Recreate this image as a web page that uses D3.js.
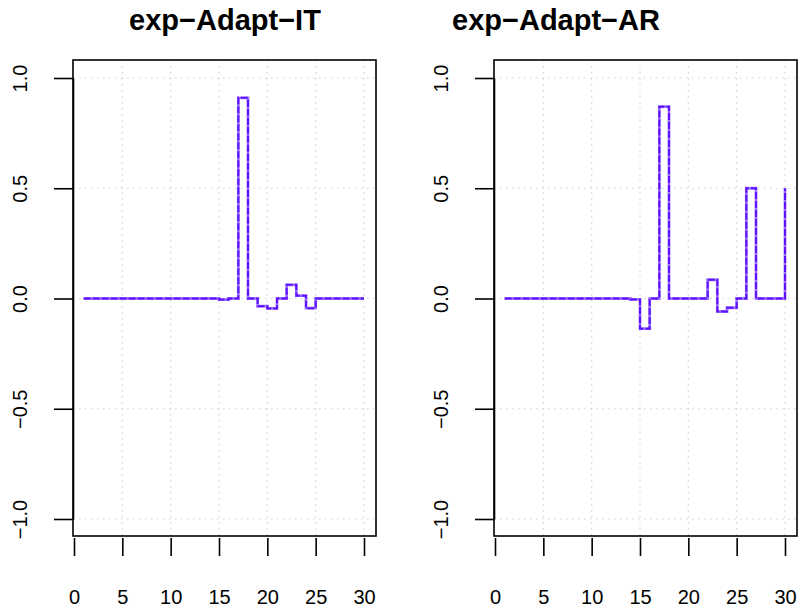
<!DOCTYPE html>
<html>
<head>
<meta charset="utf-8">
<script src="https://cdn.jsdelivr.net/npm/d3@7"></script>
<style>
  body { margin: 0; background: #fff; }
  svg { display: block; font-family: "Liberation Sans", Arial, Helvetica, sans-serif; }
</style>
</head>
<body>
<svg id="chart" width="798" height="607"></svg>
<script>
// lag index on x axis
const lags = [1, 2, 3, 4, 5, 6, 7, 8, 9, 10, 11, 12, 13, 14, 15,
              16, 17, 18, 19, 20, 21, 22, 23, 24, 25, 26, 27, 28, 29, 30];

// coefficients, panel 1
const itValues = [0, 0, 0, 0, 0, 0, 0, 0, 0, 0, 0, 0, 0, 0, -0.005,
                  0, 0.91, 0, -0.035, -0.045, 0, 0.062, 0.013, -0.044, 0, 0, 0, 0, 0, 0];

// coefficients, panel 2
const arValues = [0, 0, 0, 0, 0, 0, 0, 0, 0, 0, 0, 0, 0, -0.004, -0.137,
                  0, 0.87, 0, 0, 0, 0, 0.085, -0.059, -0.042, 0, 0.5, 0, 0, 0, 0.5];

const xTicks = [0, 5, 10, 15, 20, 25, 30];
const yTicks = [-1.0, -0.5, 0.0, 0.5, 1.0];
const titles = ["exp\u2212Adapt\u2212IT", "exp\u2212Adapt\u2212AR"];

const svg = d3.select("#chart");

// khung của từng ô
const panels = [
  {title: titles[0], values: itValues, box: [73, 376], x0: 74, x1: 364, titleX: 225},
  {title: titles[1], values: arValues, box: [494, 797], x0: 495, x1: 785, titleX: 556}
];
const boxTop = 60, boxBottom = 536;

const y = d3.scaleLinear().domain([-1, 1]).range([519, 78]);

panels.forEach(p => {
  const x = d3.scaleLinear().domain([0, 30]).range([p.x0, p.x1]);
  const g = svg.append("g");

  // lưới chấm
  g.selectAll(".gx").data(xTicks.filter(d => d > 0)).enter().append("line")
    .attr("x1", d => x(d)).attr("x2", d => x(d))
    .attr("y1", boxTop).attr("y2", boxBottom)
    .attr("stroke", "#d2d2d2").attr("stroke-width", 1.2)
    .attr("stroke-dasharray", "1.5,4.5");
  g.selectAll(".gy").data(yTicks).enter().append("line")
    .attr("x1", p.box[0]).attr("x2", p.box[1])
    .attr("y1", d => y(d)).attr("y2", d => y(d))
    .attr("stroke", "#d2d2d2").attr("stroke-width", 1.2)
    .attr("stroke-dasharray", "1.5,4.5");

  // đường bậc thang
  const pts = lags.map((l, i) => [l, p.values[i]]);
  const line = d3.line()
    .x(d => x(d[0]))
    .y(d => y(d[1]))
    .curve(d3.curveStepAfter);

  g.append("path").datum(pts)
    .attr("fill", "none")
    .attr("stroke", "#9a78ff")
    .attr("stroke-width", 2.8)
    .attr("d", line);
  g.append("path").datum(pts)
    .attr("fill", "none")
    .attr("stroke", "#6010ff")
    .attr("stroke-width", 2)
    .attr("stroke-dasharray", "7,2")
    .attr("d", line);

  // khung
  g.append("rect")
    .attr("x", p.box[0]).attr("y", boxTop)
    .attr("width", p.box[1] - p.box[0]).attr("height", boxBottom - boxTop)
    .attr("fill", "none").attr("stroke", "#000").attr("stroke-width", 1.6);

  // trục X
  const ax = g.append("g")
    .attr("transform", `translate(0,538)`)
    .call(d3.axisBottom(x).tickValues(xTicks).tickSize(18).tickSizeOuter(0));
  ax.select(".domain").remove();
  ax.selectAll("line").attr("stroke", "#000").attr("stroke-width", 1.6);
  ax.selectAll("text")
    .attr("y", 66).attr("dy", 0)
    .attr("fill", "#000")
    .style("font-size", "20px")
    .style("font-family", "Liberation Sans, Arial, sans-serif");

  // trục Y
  const ay = g.append("g")
    .attr("transform", `translate(${p.box[0]},0)`)
    .call(d3.axisLeft(y).tickValues(yTicks).tickSize(19).tickSizeOuter(0)
      .tickFormat(d3.format(".1f")));
  ay.select(".domain").attr("stroke", "#000").attr("stroke-width", 1.6);
  ay.selectAll("line").attr("stroke", "#000").attr("stroke-width", 1.6);
  ay.selectAll("text")
    .attr("x", 0).attr("dy", 0)
    .attr("text-anchor", "middle")
    .attr("transform", "translate(-46,0) rotate(-90)")
    .attr("fill", "#000")
    .style("font-size", "20px")
    .style("font-family", "Liberation Sans, Arial, sans-serif")
    .text(d => d3.format(".1f")(d).replace("-", "\u2212"));

  // tiêu đề
  svg.append("text")
    .attr("x", p.titleX)
    .attr("y", 30)
    .attr("text-anchor", "middle")
    .style("font-size", "29px")
    .style("font-weight", "bold")
    .text(p.title);
});
</script>
</body>
</html>
